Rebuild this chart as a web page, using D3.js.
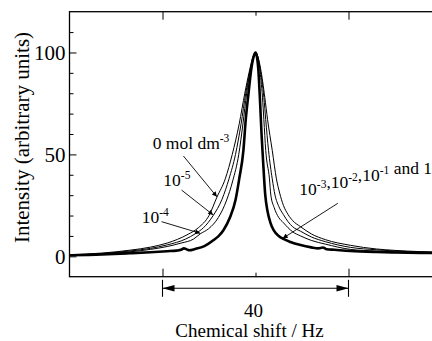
<!DOCTYPE html>
<html>
<head>
<meta charset="utf-8">
<script src="https://cdn.jsdelivr.net/npm/d3@7/dist/d3.min.js"></script>
<style>
  body { margin: 0; background: #fff; }
  svg  { display: block; }
</style>
</head>
<body>
<div id="chart"></div>
<script>
// [shift in Hz, intensity]
var spec_0mol = [[-40,0.8],[-33,1.6],[-27,3],[-22.6,4.5],[-19,6.5],[-16.8,8.3],[-14.5,10.8],[-12.3,14],[-10,20],[-8.3,29],[-6.5,38],[-5,50],[-3.5,65],[-2.3,80],[-1.4,90],[-0.6,97.5],[0,100],
                 [0.5,98],[1.1,92],[2,78],[2.6,67],[3.6,52],[4.5,38],[5.2,31],[6,25],[7,20.5],[8,17.5],[9.7,14.5],[12,11],[15,8.2],[20.4,5.4],[26,3.6],[30,2.9],[35.5,2.3],[40,2]];

var spec_1e5 = [[-40,0.7],[-33,1.4],[-27,2.6],[-22.6,3.9],[-19,5.6],[-15,8.5],[-13,11],[-11.2,14],[-9.1,20],[-7.2,28],[-5.7,38],[-4.3,50],[-3.1,65],[-2.1,80],[-1.3,90],[-0.5,97.5],[0,100],
                [0.5,98],[1,92],[1.8,78],[2.2,67],[2.8,52],[3.6,38],[4.2,30],[5,24.5],[6,20.5],[7,17],[8,14.5],[9.7,12.3],[12,9.5],[15,7.2],[20.4,4.4],[26,3.2],[30,2.6],[35.5,2.1],[40,1.9]];

var spec_1e4 = [[-40,0.6],[-33,1.2],[-27,2.2],[-22.6,3.4],[-19,4.8],[-16,6.5],[-13.3,8.5],[-11.9,11],[-10.1,13.5],[-8,19],[-6.2,27.6],[-4.9,37],[-3.6,50],[-2.7,65],[-1.9,80],[-1.2,90],[-0.5,97.5],[0,100],
                [0.5,97.5],[0.9,92],[1.5,78],[1.8,67],[2.2,52],[3,38],[3.3,30],[4,24],[5,19],[6,16.5],[7,14],[8,12],[9.7,10],[12,7.8],[15,6],[20.4,3.4],[26,2.6],[30,2.2],[35.5,1.9],[40,1.7]];

// 10^-3 .. 1 mol dm^-3 lie on top of each other -> one heavy trace
var spec_high = [[-40,0.5],[-33,0.9],[-27,1.5],[-22.6,2],[-19,2.5],[-17,2.8],[-16,3.2],[-15.4,3.9],[-14.8,3.4],[-14.2,3],[-13,3.6],[-11,5],[-9,8],[-8,9.8],[-6.9,12.8],[-5.5,19],[-4.3,27.6],[-3.5,38],[-2.6,52],[-2.1,67],[-1.5,80],[-0.9,92],[-0.4,98],[0,100],
                 [0.3,98],[0.6,92],[1,75],[1.3,60],[1.6,48],[2.1,30],[2.6,22],[3.2,16.5],[3.9,12.8],[5,10],[6,8.5],[7.5,7],[9.7,5.5],[12,4.4],[13.5,3.9],[14.5,4.3],[15.3,3.5],[17,3.2],[20.4,2.6],[26,2.1],[30,1.9],[35.5,1.7],[40,1.6]];

var yMajor = [0, 50, 100];
var yMinor = [10, 20, 30, 40, 60, 70, 80, 90, 110];
var xMajor = [-20, 20];
var xMinor = [0];

var label_0mol = [["0 mol dm", "-3"]];
var label_1e5  = [["10", "-5"]];
var label_1e4  = [["10", "-4"]];
var label_high = [["10", "-3"], [",10", "-2"], [",10", "-1"], [" and 1", null]];
var spanLabel  = "40";
var xTitle     = "Chemical shift / Hz";
var yTitle     = "Intensity (arbitrary units)";

var W = 432, H = 341;
var serif = "'Liberation Serif', 'Times New Roman', serif";

var svg = d3.select("#chart").append("svg")
  .attr("width", W).attr("height", H)
  .attr("font-family", serif);

var x = d3.scaleLinear().domain([-40, 40]).range([69.5, 441.5]);
var y = d3.scaleLinear().domain([-10, 120]).range([276.7, 11.7]);

var x0 = x.range()[0], x1 = x.range()[1];
var yb = y.range()[0], yt = y.range()[1];

/*--------------------------- axes ---------------------------*/

function noDomain(g) { g.select(".domain").remove(); }

svg.append("g").attr("transform", "translate(" + x0 + ",0)")
  .call(d3.axisLeft(y).tickValues(yMajor).tickSize(-7).tickPadding(4))
  .call(noDomain)
  .attr("font-size", 21).attr("font-family", serif);

svg.append("g").attr("transform", "translate(" + x0 + ",0)")
  .call(d3.axisLeft(y).tickValues(yMinor).tickSize(-4).tickFormat(""))
  .call(noDomain);

svg.append("g").attr("transform", "translate(0," + yt + ")")
  .call(d3.axisTop(x).tickValues(xMajor).tickSize(-8).tickFormat(""))
  .call(noDomain);

svg.append("g").attr("transform", "translate(0," + yt + ")")
  .call(d3.axisTop(x).tickValues(xMinor).tickSize(-4).tickFormat(""))
  .call(noDomain);

svg.append("g").attr("transform", "translate(0," + yb + ")")
  .call(d3.axisBottom(x).tickValues(xMajor).tickSize(-8).tickFormat(""))
  .call(noDomain);

svg.append("g").attr("transform", "translate(0," + yb + ")")
  .call(d3.axisBottom(x).tickValues(xMinor).tickSize(-4).tickFormat(""))
  .call(noDomain);

svg.selectAll(".tick line").attr("stroke-width", 1);

svg.append("rect")
  .attr("x", x0).attr("y", yt)
  .attr("width", x1 - x0).attr("height", yb - yt)
  .attr("fill", "none").attr("stroke", "#000").attr("stroke-width", 1.3);

/*--------------------------- spectra ---------------------------*/

var line = d3.line()
  .x(function (d) { return x(d[0]); })
  .y(function (d) { return y(d[1]); })
  .curve(d3.curveMonotoneX);

[spec_0mol, spec_1e5, spec_1e4].forEach(function (s) {
  svg.append("path").datum(s).attr("d", line)
    .attr("fill", "none").attr("stroke", "#000").attr("stroke-width", 1);
});

svg.append("path").datum(spec_high).attr("d", line)
  .attr("fill", "none").attr("stroke", "#000").attr("stroke-width", 2.6)
  .attr("stroke-linejoin", "round");

/*--------------------------- annotations ---------------------------*/

svg.append("defs").append("marker")
  .attr("id", "head").attr("viewBox", "0 0 10 10")
  .attr("refX", 10).attr("refY", 5)
  .attr("markerWidth", 7).attr("markerHeight", 5)
  .attr("markerUnits", "userSpaceOnUse")
  .attr("orient", "auto")
  .append("path").attr("d", "M0,0L10,5L0,10Z").attr("fill", "#000");

function supText(px, py, parts) {
  var t = svg.append("text").attr("x", px).attr("y", py).attr("font-size", 17.5);
  parts.forEach(function (p) {
    t.append("tspan").text(p[0]);
    if (p[1]) {
      t.append("tspan").attr("dy", -7).attr("font-size", 11.5).text(p[1]);
      t.append("tspan").attr("dy", 7).text("");
    }
  });
}

supText(152.7, 149.3, label_0mol);
supText(163.3, 186, label_1e5);
supText(141.7, 223.3, label_1e4);
supText(299.3, 195, label_high);

// pointers: from label (shift, intensity) to curve (shift, intensity)
[[-15.5, 49.2, -8.3, 29.2],
 [-15.9, 32.5, -9.1, 20.3],
 [-20.2, 17,  -11.9, 11.3],
 [17.7,  26,   5.85, 8.8]].forEach(function (a) {
  svg.append("line")
    .attr("x1", x(a[0])).attr("y1", y(a[1]))
    .attr("x2", x(a[2])).attr("y2", y(a[3]))
    .attr("stroke", "#000").attr("stroke-width", 0.9)
    .attr("marker-end", "url(#head)");
});

// 40 Hz span below the axis
var ya = 288.3;
svg.append("line")
  .attr("x1", x(-20)).attr("x2", x(20)).attr("y1", ya).attr("y2", ya)
  .attr("stroke", "#000").attr("stroke-width", 1.1);
[-20, 20].forEach(function (v) {
  svg.append("line")
    .attr("x1", x(v)).attr("x2", x(v)).attr("y1", ya - 8.5).attr("y2", ya + 8.5)
    .attr("stroke", "#000").attr("stroke-width", 1.1);
  var s = v < 0 ? 1 : -1;
  svg.append("path")
    .attr("d", "M" + x(v) + "," + ya + "L" + (x(v) + s * 12) + "," + (ya - 3.2) + "L" + (x(v) + s * 12) + "," + (ya + 3.2) + "Z")
    .attr("fill", "#000");
});

svg.append("text")
  .attr("x", x(0) - 2).attr("y", 316.7)
  .attr("text-anchor", "middle").attr("font-size", 19)
  .text(spanLabel);

svg.append("text")
  .attr("x", 249.5).attr("y", 337)
  .attr("text-anchor", "middle").attr("font-size", 19)
  .text(xTitle);

svg.append("text")
  .attr("transform", "translate(29,137.5) rotate(-90)")
  .attr("text-anchor", "middle").attr("font-size", 21)
  .text(yTitle);
</script>
</body>
</html>
